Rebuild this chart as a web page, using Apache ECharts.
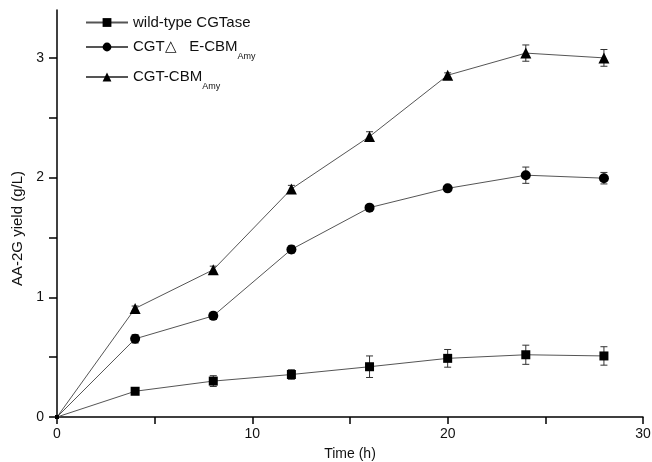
<!DOCTYPE html>
<html>
<head>
<meta charset="utf-8">
<script src="https://cdn.jsdelivr.net/npm/echarts@6/dist/echarts.min.js"></script>
<style>html,body{margin:0;padding:0;background:#fff}#c{width:652px;height:462px}</style>
</head>
<body>
<div id="c"></div>
<script>
// ---- data ----
var timeH = [0, 4, 8, 12, 16, 20, 24, 28];
var wildType = [0, 0.215, 0.30, 0.355, 0.42, 0.49, 0.52, 0.51];
var wildTypeErr = [0, 0.02, 0.045, 0.04, 0.09, 0.074, 0.08, 0.077];
var cgtDeltaE = [0, 0.653, 0.845, 1.40, 1.749, 1.91, 2.02, 1.995];
var cgtDeltaEErr = [0, 0.035, 0.03, 0.03, 0.02, 0.02, 0.068, 0.048];
var cgtCbm = [0, 0.907, 1.23, 1.905, 2.343, 2.855, 3.04, 3.0];
var cgtCbmErr = [0, 0.02, 0.03, 0.03, 0.04, 0.02, 0.068, 0.07];
var seriesNames = ['wild-type CGTase', 'CGT\u25B3   E-CBM_Amy', 'CGT-CBM_Amy'];
var xTickValues = [0, 5, 10, 15, 20, 25, 30];
var xLabelValues = [0, 10, 20, 30];
var yTickValues = [0, 0.5, 1, 1.5, 2, 2.5, 3];
var yLabelValues = [0, 1, 2, 3];

var font = 'Liberation Sans, Arial, sans-serif';
var chart = echarts.init(document.getElementById('c'));

function pairs(ys) { return timeH.map(function (t, i) { return [t, ys[i]]; }); }
function triples(ys, es) { return timeH.map(function (t, i) { return [t, ys[i], es[i]]; }); }

function errSeries(ys, es) {
  return {
    type: 'custom', z: 1, silent: true,
    data: triples(ys, es),
    encode: { x: 0, y: 1 },
    renderItem: function (params, api) {
      var x = api.value(0), y = api.value(1), e = api.value(2);
      if (!e) return null;
      var top = api.coord([x, y + e]);
      var bot = api.coord([x, y - e]);
      var hw = 3.5;
      var st = { stroke: '#333', lineWidth: 1, fill: null };
      return {
        type: 'group',
        children: [
          { type: 'line', shape: { x1: top[0], y1: top[1], x2: bot[0], y2: bot[1] }, style: st },
          { type: 'line', shape: { x1: top[0] - hw, y1: top[1], x2: top[0] + hw, y2: top[1] }, style: st },
          { type: 'line', shape: { x1: bot[0] - hw, y1: bot[1], x2: bot[0] + hw, y2: bot[1] }, style: st }
        ]
      };
    }
  };
}

function lineSeries(name, ys, symbol, size) {
  return {
    name: name, type: 'line', z: 2,
    data: pairs(ys),
    symbol: symbol,
    symbolSize: function (v, p) { return p.dataIndex === 0 ? 4 : size; },
    showAllSymbol: true,
    lineStyle: { color: '#555', width: 1 },
    itemStyle: { color: '#000' },
    emphasis: { disabled: true },
    animation: false
  };
}

function fmtLegend(name) {
  var parts = name.split('_');
  if (parts.length === 1) return '{m|' + name + '}';
  return '{m|' + parts[0] + '}{s|' + parts[1] + '}';
}

var legendRich = {
  m: { fontSize: 15, lineHeight: 28, fontFamily: font, color: '#111' },
  s: { fontSize: 9, lineHeight: 8, verticalAlign: 'bottom', fontFamily: font, color: '#111' }
};
var legendTops = [15, 39.5, 69.5];
var legends = seriesNames.map(function (n, i) {
  return {
    data: [n], left: 85, top: legendTops[i], padding: 0, orient: 'vertical',
    itemWidth: 42, itemHeight: 11, selectedMode: false,
    formatter: fmtLegend,
    textStyle: { fontSize: 15, fontFamily: font, color: '#111', rich: legendRich }
  };
});

chart.setOption({
  animation: false,
  backgroundColor: '#fff',
  legend: legends,
  grid: { left: 57, right: 9, top: 10, bottom: 45, containLabel: false, outerBoundsMode: 'none' },
  xAxis: {
    type: 'value', min: 0, max: 30, interval: 5,
    name: 'Time (h)', nameLocation: 'middle', nameGap: 30,
    nameTextStyle: { fontSize: 14, fontFamily: font, color: '#111' },
    axisLine: { show: true, onZero: false, lineStyle: { color: '#000', width: 1.5 } },
    axisTick: { show: true, length: 7, customValues: xTickValues, lineStyle: { color: '#000', width: 1.5 } },
    axisLabel: { customValues: xLabelValues, fontSize: 14, fontFamily: font, color: '#111', margin: 10 },
    splitLine: { show: false }
  },
  yAxis: {
    type: 'value', min: 0, max: 3.4, interval: 0.5,
    name: 'AA-2G yield (g/L)', nameLocation: 'middle', nameGap: 32,
    nameTextStyle: { fontSize: 15, fontFamily: font, color: '#111', padding: [0, 30, 0, 0] },
    axisLine: { show: true, onZero: false, lineStyle: { color: '#000', width: 1.5 } },
    axisTick: { show: true, length: 8, customValues: yTickValues, lineStyle: { color: '#000', width: 1.5 } },
    axisLabel: { customValues: yLabelValues, fontSize: 14, fontFamily: font, color: '#111', margin: 13 },
    splitLine: { show: false }
  },
  series: [
    errSeries(wildType, wildTypeErr),
    errSeries(cgtDeltaE, cgtDeltaEErr),
    errSeries(cgtCbm, cgtCbmErr),
    lineSeries(seriesNames[0], wildType, 'rect', 9),
    lineSeries(seriesNames[1], cgtDeltaE, 'circle', 10),
    lineSeries(seriesNames[2], cgtCbm, 'triangle', 11)
  ]
});
</script>
</body>
</html>
